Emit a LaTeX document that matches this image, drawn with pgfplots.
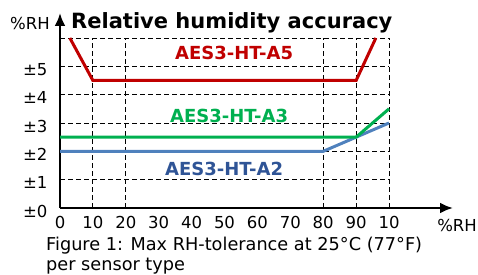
\documentclass[border=0pt]{standalone}
\usepackage{fontspec}
\setmainfont{DejaVu Sans}
\usepackage{pgfplots}
\pgfplotsset{compat=1.18}
\usetikzlibrary{arrows.meta}
\definecolor{cred}{HTML}{C00000}
\definecolor{cgreen}{HTML}{00B050}
\definecolor{cblue}{HTML}{4F81BD}
\definecolor{cbluetext}{HTML}{2F5496}
\begin{document}
\begin{tikzpicture}
\begin{axis}[
  scale only axis, width=329pt, height=170pt,
  xmin=0, xmax=100, ymin=0, ymax=6,
  axis lines=left,
  axis line style={line width=2.6pt, black},
  x axis line style={-{Latex[length=13pt,width=11pt]}, shorten >=-64pt},
  y axis line style={-{Latex[length=13pt,width=11pt]}, shorten >=-25pt},
  xtick={0,10,...,100},
  xticklabels={0,10,20,30,40,50,60,70,80,90,10},
  ytick={0,1,2,3,4,5},
  yticklabels={±0,±1,±2,±3,±4,±5},
  major tick length=0pt,
  ymajorgrids=true,
  extra x ticks={10,20,80,90,100},
  extra x tick labels={},
  extra x tick style={grid=major},
  extra y ticks={6},
  extra y tick labels={},
  extra y tick style={grid=major},
  grid style={black, line width=0.9pt, dash pattern=on 5pt off 3pt},
  /pgf/number format/assume math mode=true,
  ticklabel style={font=\fontsize{16.5}{19}\selectfont},
  xticklabel style={anchor=north, yshift=-5pt},
  yticklabel style={anchor=east, xshift=-9pt, yshift=-3pt},
  clip=false,
]
\addplot[cblue, line width=3pt] coordinates {(0,2) (80,2) (100,3)};
\addplot[cgreen, line width=3pt] coordinates {(0,2.5) (90,2.5) (100,3.5)};
\addplot[cred, line width=3pt] coordinates {(3,6) (10,4.5) (90,4.5) (96,6)};
\end{axis}
\node[anchor=base west, inner sep=0pt, font=\bfseries\fontsize{21}{25}\selectfont] at (11pt,179pt) {Relative humidity accuracy};
\node[anchor=base east, inner sep=0pt, font=\fontsize{16.5}{19}\selectfont] at (-10pt,178pt) {\%RH};
\node[anchor=base east, inner sep=0pt, font=\fontsize{16.5}{19}\selectfont] at (417pt,-24pt) {\%RH};
\node[anchor=base west, inner sep=0pt, font=\bfseries\fontsize{18}{21}\selectfont, text=cred] at (115pt,148pt) {AES3-HT-A5};
\node[anchor=base west, inner sep=0pt, font=\bfseries\fontsize{18}{21}\selectfont, text=cgreen] at (110pt,85pt) {AES3-HT-A3};
\node[anchor=base west, inner sep=0pt, font=\bfseries\fontsize{18}{21}\selectfont, text=cbluetext] at (105pt,32pt) {AES3-HT-A2};
\node[anchor=base west, inner sep=0pt, font=\fontsize{17.7}{21}\selectfont] at (-14pt,-42pt) {Figure 1: Max RH-tolerance at 25°C (77°F)};
\node[anchor=base west, inner sep=0pt, font=\fontsize{17.7}{21}\selectfont] at (-14pt,-62pt) {per sensor type};
\pgfresetboundingbox
\path (-60pt,-67pt) rectangle (418pt,208pt);
\end{tikzpicture}
\end{document}
